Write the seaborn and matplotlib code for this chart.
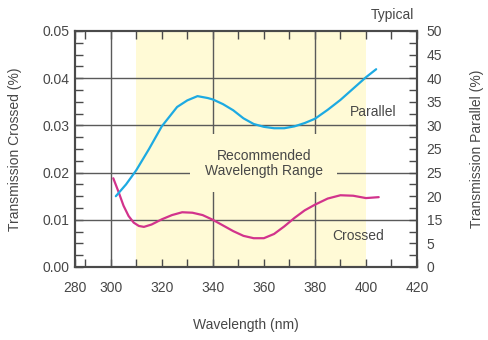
import numpy as np
import pandas as pd
import matplotlib
matplotlib.use("Agg")
import matplotlib.pyplot as plt
from matplotlib.ticker import FixedLocator, MultipleLocator
import seaborn as sns

# Parallel transmission (%), right axis
parallel_nm = [302, 306, 310, 315, 320, 326, 330, 334, 338, 340, 344, 348, 352,
               356, 360, 364, 368, 372, 376, 380, 385, 390, 395, 400, 404]
parallel_pct = [15.0, 17.5, 20.5, 25.0, 29.8, 33.9, 35.3, 36.2, 35.8, 35.5, 34.5,
                33.2, 31.5, 30.3, 29.7, 29.4, 29.4, 29.8, 30.5, 31.4, 33.3, 35.4,
                37.8, 40.2, 41.9]

# Crossed transmission (%), left axis
crossed_nm = [301, 303, 305, 307, 309, 311, 313, 316, 320, 324, 328, 332, 336,
              340, 344, 348, 352, 356, 360, 364, 368, 372, 376, 380, 385, 390,
              395, 400, 405]
crossed_pct = [0.0188, 0.0160, 0.0130, 0.0108, 0.0094, 0.0087, 0.0085, 0.0090,
               0.0101, 0.0110, 0.0116, 0.0115, 0.0110, 0.0100, 0.0088, 0.0076,
               0.0066, 0.0061, 0.0061, 0.0070, 0.0086, 0.0104, 0.0120, 0.0132,
               0.0145, 0.0152, 0.0151, 0.0146, 0.0148]

# Recommended range (nm)
band = (310, 400)

# Axis ticks and labels
x_major = [286, 300, 320, 340, 360, 380, 400, 420]
x_major_labels = ["280", "300", "320", "340", "360", "380", "400", "420"]
x_minor = [290, 310, 330, 350, 370, 390, 410]
x_grid = [300, 340, 380]
left_ticks = [0.00, 0.01, 0.02, 0.03, 0.04, 0.05]
left_labels = ["0.00", "0.01", "0.02", "0.03", "0.04", "0.05"]
right_ticks = [0, 5, 10, 15, 20, 25, 30, 35, 40, 45, 50]
right_labels = ["0", "5", "15", "20", "25", "25", "30", "35", "40", "45", "50"]

sns.set_style("white")
plt.rcParams["font.family"] = ["Liberation Sans", "DejaVu Sans"]

TXT = "#474747"
GRID = "#5a5a5a"
SPINE = "#4a4a4a"
YELLOW = "#FFFAD6"
CYAN = "#1DAAE2"
MAGENTA = "#D2338C"

fig = plt.figure(figsize=(4.89, 3.40), dpi=100)
ax = fig.add_axes([75 / 489, 1 - 267 / 340, 342 / 489, 236 / 340])
ax2 = ax.twinx()

ax.set_xlim(286, 420)
ax.set_ylim(0, 0.05)
ax2.set_ylim(0, 50)

# recommended wavelength band
ax.axvspan(band[0], band[1], color=YELLOW, zorder=0, lw=0)

# grid lines
for gx in x_grid:
    ax.axvline(gx, color=GRID, lw=1.0, zorder=1)
for gy in left_ticks[1:-1]:
    ax.axhline(gy, color=GRID, lw=1.0, zorder=1)

crossed_df = pd.DataFrame({"nm": crossed_nm, "pct": crossed_pct})
parallel_df = pd.DataFrame({"nm": parallel_nm, "pct": parallel_pct})

sns.lineplot(data=crossed_df, x="nm", y="pct", ax=ax, color=MAGENTA, lw=1.6, zorder=4)
sns.lineplot(data=parallel_df, x="nm", y="pct", ax=ax2, color=CYAN, lw=1.6, zorder=4)

# ticks
ax.xaxis.set_major_locator(FixedLocator(x_major))
ax.set_xticklabels(x_major_labels)
ax.xaxis.set_minor_locator(FixedLocator(x_minor))
ax.set_yticks(left_ticks)
ax.set_yticklabels(left_labels)
ax.yaxis.set_minor_locator(MultipleLocator(0.0025))
ax2.set_yticks(right_ticks)
ax2.set_yticklabels(right_labels)
ax2.yaxis.set_minor_locator(MultipleLocator(2.5))

for a in (ax, ax2):
    a.tick_params(which="both", direction="in", length=5.5, width=1.0,
                  color=SPINE, labelsize=10, labelcolor=TXT)
    for s in a.spines.values():
        s.set_color(SPINE)
        s.set_linewidth(1.5)
ax.tick_params(axis="x", which="both", top=True, bottom=True, pad=10)
ax.tick_params(axis="y", which="both", left=True, right=False, pad=4)
ax2.tick_params(axis="y", which="both", right=True, left=False, pad=7)

ax.set_xlabel("Wavelength (nm)", fontsize=10, color=TXT)
ax.set_ylabel("Transmission Crossed (%)", fontsize=10, color=TXT)
ax2.set_ylabel("Transmission Parallel (%)", fontsize=10, color=TXT)
ax.xaxis.set_label_coords(0.5, -0.215)
ax.yaxis.set_label_coords(-0.155, 0.5)
ax2.yaxis.set_label_coords(1.155, 0.5)

ax.text(0.991, 1.068, "Typical", transform=ax.transAxes, ha="right", va="center",
        fontsize=10, color=TXT)
ax.text(403, 0.0328, "Parallel", ha="center", va="center", fontsize=10,
        color=TXT, zorder=5)
ax.text(397, 0.0066, "Crossed", ha="center", va="center", fontsize=10,
        color=TXT, zorder=5)
ax.text(360, 0.0220, "Recommended\nWavelength Range", ha="center", va="center",
        fontsize=10, color=TXT, linespacing=1.1, zorder=5,
        bbox=dict(boxstyle="square,pad=1.05", fc=YELLOW, ec="none"))

ax.set_zorder(1)
ax2.set_zorder(2)
ax2.patch.set_visible(False)

fig.savefig("out.png", dpi=100)
